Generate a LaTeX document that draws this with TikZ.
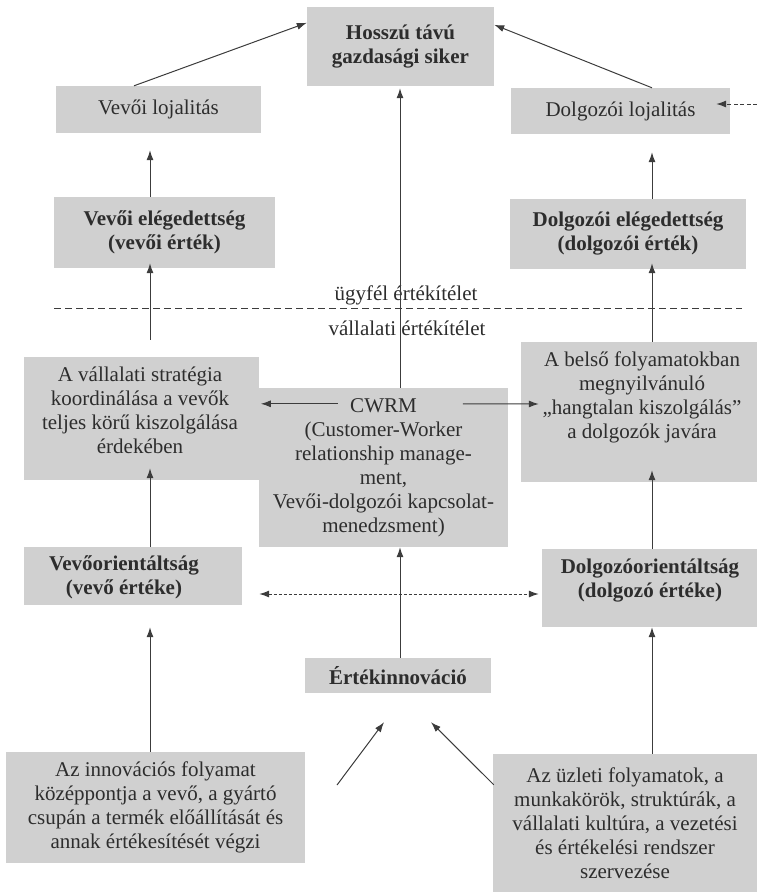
\documentclass[tikz,border=0pt]{standalone}
\usepackage{fontspec}
\setmainfont{Liberation Serif}
\usetikzlibrary{arrows.meta,calc}
\definecolor{boxgray}{RGB}{208,208,208}
\definecolor{ink}{RGB}{60,60,60}
\definecolor{txtc}{RGB}{45,45,45}
\begin{document}
\begin{tikzpicture}[x=1pt,y=-1pt,
  txt/.style={font=\fontsize{21}{24}\selectfont, text=txtc, inner sep=0pt, align=center},
  btxt/.style={font=\fontsize{21}{24}\selectfont\bfseries, text=txtc, inner sep=0pt, align=center},
  box/.style={fill=boxgray, inner sep=0pt, align=center},
  arr/.style={draw=ink, line width=1pt, -{Latex[length=10pt,width=7pt]}},
  darr/.style={draw=ink, line width=1pt, densely dashed, {Latex[length=10pt,width=7pt]}-{Latex[length=10pt,width=7pt]}}
]
\useasboundingbox (0,0) rectangle (757,892);

% boxes
\node[box,btxt,minimum width=187pt,minimum height=79pt] (hosszu) at (400.5,46.5) {Hosszú távú\\gazdasági siker};
\node[box,txt,minimum width=205pt,minimum height=47pt] (vlojal) at (158.5,109.5) {Vevői lojalitás};
\node[box,txt,minimum width=219pt,minimum height=46pt] (dlojal) at (620.5,111) {Dolgozói lojalitás};
\node[box,btxt,minimum width=221pt,minimum height=71pt] (veleg) at (164.5,232.5) {Vevői elégedettség\\(vevői érték)};
\node[box,btxt,minimum width=236pt,minimum height=70pt] (deleg) at (628,234) {Dolgozói elégedettség\\(dolgozói érték)};

\node[box,minimum width=235pt,minimum height=123pt] (strat) at (141.5,418.5) {};
\node[txt] (stratT) at (140,410) {A vállalati stratégia\\koordinálása a vevők\\teljes körű kiszolgálása\\érdekében};
\node[box,txt,minimum width=249pt,minimum height=159pt] (cwrm) at (383.5,467.5) {CWRM\\(Customer-Worker\\relationship manage-\\ment,\\Vevői-dolgozói kapcsolat-\\menedzsment)};
\node[box,minimum width=236pt,minimum height=140pt] (belso) at (639,412) {};
\node[txt] (belsoT) at (642,397) {A belső folyamatokban\\megnyilvánuló\\„hangtalan kiszolgálás”\\a dolgozók javára};

\node[box,minimum width=218pt,minimum height=58pt] (vorient) at (133,576) {};
\node[btxt] (vorientT) at (124,577) {Vevőorientáltság\\(vevő értéke)};
\node[box,minimum width=215pt,minimum height=78pt] (dorient) at (649.5,588) {};
\node[btxt] (dorientT) at (650,581) {Dolgozóorientáltság\\(dolgozó értéke)};

\node[box,btxt,minimum width=186pt,minimum height=35pt] (ertek) at (398,675.5) {Értékinnováció};
\node[box,txt,minimum width=299pt,minimum height=111pt] (innov) at (155.5,807.5) {Az innovációs folyamat\\középpontja a vevő, a gyártó\\csupán a termék előállítását és\\annak értékesítését végzi};
\node[box,txt,minimum width=264pt,minimum height=138pt] (uzleti) at (625,823) {Az üzleti folyamatok, a\\munkakörök, struktúrák, a\\vállalati kultúra, a vezetési\\és értékelési rendszer\\szervezése};

% dividing line and its labels
\coordinate (dl) at (54,308);
\coordinate (dr) at (742,308);
\draw[ink, line width=1pt, dash pattern=on 7pt off 4pt] (dl) -- (dr);
\node[txt] (ugyfel) at (406,295) {ügyfél értékítélet};
\node[txt] (vallalati) at (407,328) {vállalati értékítélet};

% column x positions
\coordinate (lx) at (150,0);
\coordinate (rx) at (652,0);
\coordinate (cx) at (400,0);

% top diagonals
\draw[arr] ($(vlojal.north)+(-24.5,0)$) -- ($(hosszu.north west)+(0,16)$);
\draw[arr] ($(dlojal.north)+(31.5,0)$) -- ($(hosszu.north east)+(0,18)$);
\coordinate (rin) at (757,104);
\draw[arr, dash pattern=on 4pt off 2.5pt] (rin) -- ($(dlojal.east)+(-14,-7)$);

% left column
\draw[arr, shorten >=17pt] (lx |- veleg.north) -- (lx |- vlojal.south);
\draw[arr, shorten >=-5pt] ($(lx |- strat.north)+(0,-17)$) -- (lx |- veleg.south);
\draw[arr, shorten >=-12pt] (lx |- vorient.north) -- (lx |- strat.south);
\draw[arr, shorten >=22pt] (lx |- innov.north) -- (lx |- vorient.south);

% right column
\draw[arr, shorten >=18pt] (rx |- deleg.north) -- (rx |- dlojal.south);
\draw[arr, shorten >=-6pt] (rx |- belso.north) -- (rx |- deleg.south);
\draw[arr, shorten >=-12pt] (rx |- dorient.north) -- (rx |- belso.south);
\draw[arr] (rx |- uzleti.north) -- (rx |- dorient.south);

% centre column
\draw[arr, shorten >=2pt] (cx |- cwrm.north) -- (cx |- hosszu.south);
\draw[arr] (cx |- ertek.north) -- (cx |- cwrm.south);

% horizontals
\draw[arr] ($(cwrm.north west)+(79,16)$) -- ($(cwrm.north west)+(2,16)$);
\draw[arr] ($(cwrm.north west)+(204,16)$) -- ($(belso.west)+(18,-8)$);
\draw[darr] ($(vorient.east)+(17,18)$) -- ($(dorient.west)+(-3,6)$);

% bottom diagonals
\coordinate (fs) at (337,785);
\draw[arr] (fs) -- ($(ertek.south)+(-14,29)$);
\draw[arr] ($(uzleti.north west)+(1,31)$) -- ($(ertek.south)+(33,29)$);
\end{tikzpicture}
\end{document}
